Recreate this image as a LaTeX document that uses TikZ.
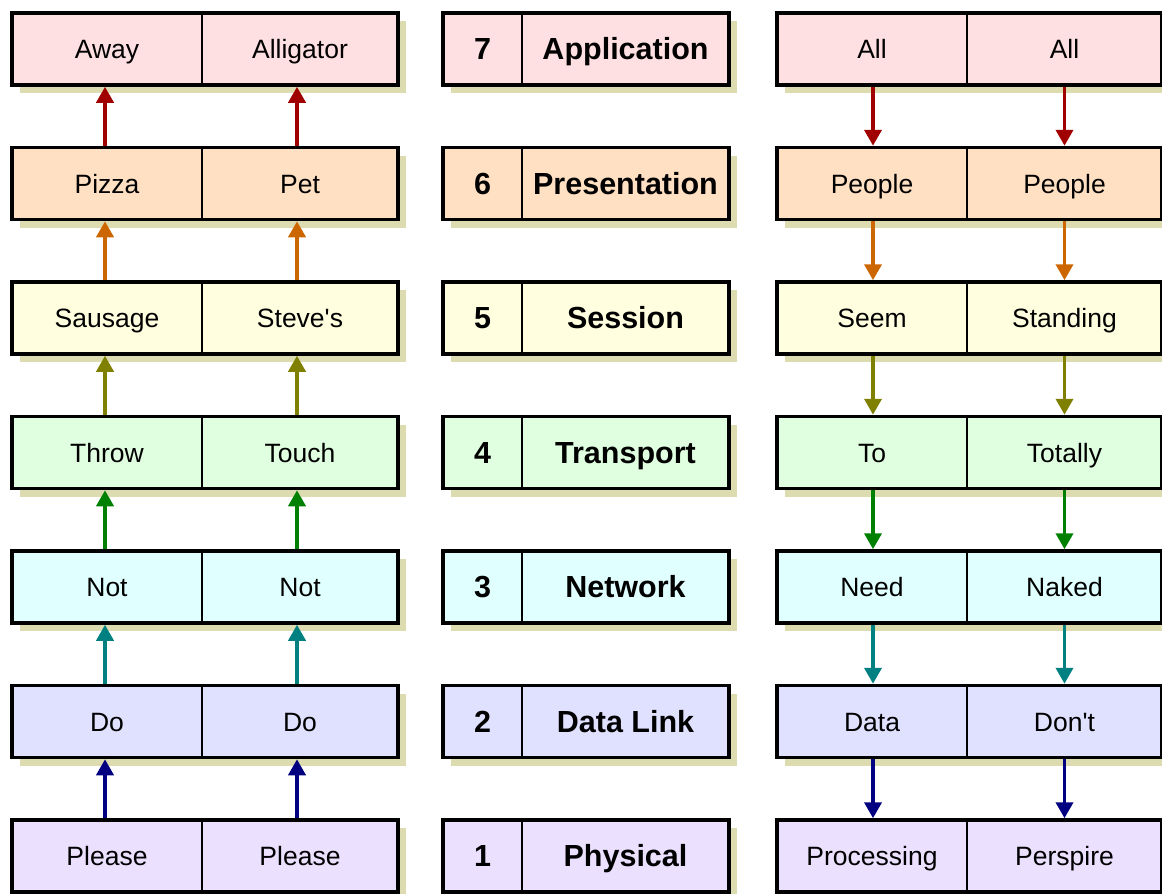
\documentclass[tikz,border=0pt]{standalone}
\usepackage{fontspec}
\setmainfont{Liberation Sans}
\usetikzlibrary{arrows.meta}
\definecolor{f7}{HTML}{FFE0E2}
\definecolor{f6}{HTML}{FFE0C2}
\definecolor{f5}{HTML}{FFFFE0}
\definecolor{f4}{HTML}{E0FFE0}
\definecolor{f3}{HTML}{E0FFFF}
\definecolor{f2}{HTML}{E0E0FF}
\definecolor{f1}{HTML}{ECE0FF}
\definecolor{a7}{HTML}{A00000}
\definecolor{a6}{HTML}{CC6600}
\definecolor{a5}{HTML}{808000}
\definecolor{a4}{HTML}{008000}
\definecolor{a3}{HTML}{008080}
\definecolor{a2}{HTML}{000080}
\definecolor{shadowc}{HTML}{DDDBB0}
\begin{document}
\begin{tikzpicture}[x=1pt,y=-1pt,
  cell/.style={draw=black, line width=1.2pt, inner sep=0pt, outer sep=0pt,
    minimum height=72pt, text height=19pt, text depth=0pt,
    font=\fontsize{26.5}{30}\selectfont},
  boldcell/.style={cell, text height=21.8pt, font=\fontsize{30.5}{34}\selectfont\bfseries},
  outerbox/.style={draw=black, line width=3.5pt},
  shadowbox/.style={fill=shadowc},
  arr/.style={line width=3.8pt, -{Triangle[length=16pt,width=17pt]},
    shorten >=1.75pt, shorten <=1.75pt}]
\useasboundingbox (0,0) rectangle (1162,894);
\foreach \r/\fc/\la/\lb/\nm/\ra/\rb in {
  7/f7/Away/Alligator/Application/All/All,
  6/f6/Pizza/Pet/Presentation/People/People,
  5/f5/Sausage/Steve\textquotesingle s/Session/Seem/Standing,
  4/f4/Throw/Touch/Transport/To/Totally,
  3/f3/Not/Not/Network/Need/Naked,
  2/f2/Do/Do/Data Link/Data/Don\textquotesingle t,
  1/f1/Please/Please/Physical/Processing/Perspire}{
  \pgfmathsetmacro\t{13+134.5*(7-\r)}
  \pgfmathsetmacro\c{\t+36}
  % shadows
  \fill[shadowbox] (20,\t+8) rectangle (406,\t+80);
  \fill[shadowbox] (451,\t+8) rectangle (737,\t+80);
  \fill[shadowbox] (785,\t+8) rectangle (1170,\t+80);
  % left column
  \node[cell, fill=\fc, minimum width=190pt] (L\r a) at (107,\c) {\la};
  \node[cell, fill=\fc, minimum width=196pt] (L\r b) at (300,\c) {\lb};
  \draw[outerbox] (L\r a.north west) rectangle (L\r b.south east);
  % middle column
  \node[boldcell, fill=\fc, minimum width=79pt] (M\r a) at (482.5,\c) {\r};
  \node[boldcell, fill=\fc, minimum width=207pt] (M\r b) at (625.5,\c) {\nm};
  \draw[outerbox] (M\r a.north west) rectangle (M\r b.south east);
  % right column
  \node[cell, fill=\fc, minimum width=190pt] (R\r a) at (872,\c) {\ra};
  \node[cell, fill=\fc, minimum width=195pt] (R\r b) at (1064.5,\c) {\rb};
  \draw[outerbox] (R\r a.north west) rectangle (R\r b.south east);
}
\foreach \r/\s/\ac in {1/2/a2, 2/3/a3, 3/4/a4, 4/5/a5, 5/6/a6, 6/7/a7}{
  \draw[arr, draw=\ac, fill=\ac] ([xshift=-2pt]L\r a.north) -- ([xshift=-2pt]L\s a.south);
  \draw[arr, draw=\ac, fill=\ac] ([xshift=-3pt]L\r b.north) -- ([xshift=-3pt]L\s b.south);
  \draw[arr, draw=\ac, fill=\ac] ([xshift=1pt]R\s a.south) -- ([xshift=1pt]R\r a.north);
  \draw[arr, draw=\ac, fill=\ac] (R\s b.south) -- (R\r b.north);
}
\end{tikzpicture}
\end{document}
